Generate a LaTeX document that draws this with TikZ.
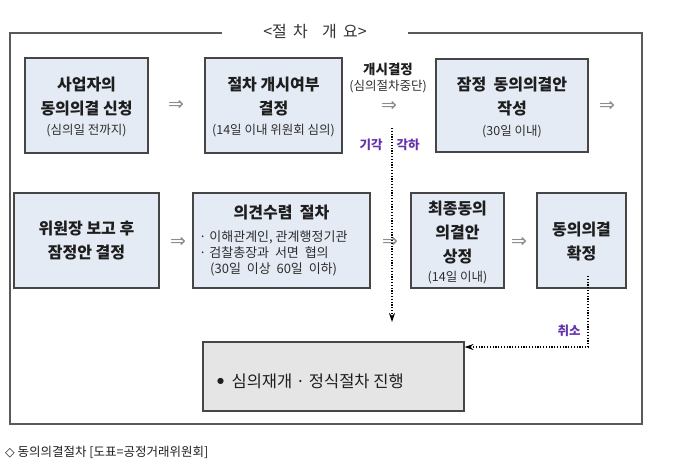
\documentclass[tikz,border=0pt]{standalone}
\usepackage{fontspec}
\setmainfont{Noto Sans CJK KR}
\newfontfamily\symfont{DejaVu Sans}
\usetikzlibrary{arrows.meta}
\definecolor{boxfill}{RGB}{229,235,245}
\definecolor{greyfill}{RGB}{229,229,229}
\definecolor{boxline}{RGB}{70,70,70}
\definecolor{purp}{RGB}{100,50,170}
\definecolor{txt}{RGB}{30,30,30}
\definecolor{subtxt}{RGB}{45,45,45}
\begin{document}
\begin{tikzpicture}[x=1pt,y=-1pt,
  box/.style={draw=boxline,line width=1.1pt,fill=boxfill,inner sep=0pt},
  gbox/.style={draw=boxline,line width=1.1pt,fill=greyfill,inner sep=0pt},
  ttl/.style={font=\bfseries\fontsize{16}{18}\selectfont,text=txt,inner sep=0pt},
  sub/.style={font=\fontsize{12.5}{14}\selectfont,text=subtxt,inner sep=0pt},
  lst/.style={font=\fontsize{13}{15}\selectfont,text=subtxt,inner sep=0pt,anchor=west},
  imp/.style={font=\symfont\fontsize{19}{20}\selectfont,text=black!45,inner sep=0pt},
  lab/.style={font=\bfseries\fontsize{12.5}{14}\selectfont,text=purp,inner sep=0pt},
  dots/.style={line width=1.3pt,dash pattern=on 1.2pt off 1.6pt,black},
  frame/.style={draw=black!65,line width=1.3pt}]
\useasboundingbox (0,0) rectangle (680,466);
% frame
\coordinate (fa) at (222,33);
\coordinate (fb) at (408,33);
\draw[frame] (fa) -- (10,33) -- (10,424) -- (642,424) -- (642,33) -- (fb);
\node[font=\fontsize{16}{18}\selectfont,text=black!80] (title) at (315,32) {<절\, 차 \ \ \ 개\, 요>};
% row 1
\node[box,minimum width=123pt,minimum height=95pt] (b1) at (86.5,105.5) {};
\node[ttl] (b1a) at (86.5,85) {사업자의};
\node[ttl] (b1b) at (86.5,109) {동의의결 신청};
\node[sub] (b1c) at (86.5,131) {(심의일 전까지)};
\node[imp] (i1) at (176,105) {⇒};
\node[box,minimum width=137pt,minimum height=95pt] (b2) at (273.5,105.5) {};
\node[ttl] (b2a) at (273.5,85) {절차 개시여부};
\node[ttl] (b2b) at (273.5,109) {결정};
\node[sub] (b2c) at (273.5,131) {(14일 이내 위원회 심의)};
\node[font=\bfseries\fontsize{13.5}{15}\selectfont,text=txt,inner sep=0pt] (g1) at (388,69) {개시결정};
\node[sub] (g2) at (388,87) {(심의절차중단)};
\node[imp] (i2) at (389,106) {⇒};
\node[box,minimum width=152pt,minimum height=93pt] (b3) at (512,105.5) {};
\node[ttl] (b3a) at (512,85) {잠정 \ 동의의결안};
\node[ttl] (b3b) at (512,109) {작성};
\node[sub] (b3c) at (512,132) {(30일 이내)};
\node[imp] (i3) at (607,106) {⇒};
% row 2
\node[box,minimum width=145pt,minimum height=95pt] (b4) at (86.5,240.5) {};
\node[ttl] (b4a) at (86.5,229) {위원장 보고 후};
\node[ttl] (b4b) at (86.5,253) {잠정안 결정};
\node[imp] (i4) at (178,242) {⇒};
\node[box,minimum width=177pt,minimum height=95pt] (b5) at (281.5,240.5) {};
\node[ttl] (b5a) at (281.5,213) {의견수렴 \ 절차};
\node[lst] (b5b) at (199,237) {· 이해관계인, 관계행정기관};
\node[lst] (b5c) at (199,253) {· 검찰총장과 \ 서면 \ 협의};
\node[lst] (b5d) at (210,269) {(30일 \ 이상 \ 60일 \ 이하)};
\node[imp] (i5) at (390,242) {⇒};
\node[box,minimum width=93pt,minimum height=95pt] (b6) at (457.5,240.5) {};
\node[ttl] (b6a) at (457.5,209) {최종동의};
\node[ttl] (b6b) at (457.5,233) {의결안};
\node[ttl] (b6c) at (457.5,257) {상정};
\node[sub] (b6d) at (457.5,278) {(14일 이내)};
\node[imp] (i6) at (519,242) {⇒};
\node[box,minimum width=89pt,minimum height=95pt] (b7) at (581.5,240.5) {};
\node[ttl] (b7a) at (581.5,230) {동의의결};
\node[ttl] (b7b) at (581.5,253) {확정};
% bottom
\node[gbox,minimum width=261pt,minimum height=69pt] (b8) at (333.5,376.5) {};
\node[font=\fontsize{16.5}{18}\selectfont,text=txt,inner sep=0pt,anchor=west] (b8a) at (217,381) {\raisebox{3.5pt}{\symfont\fontsize{8}{10}\selectfont●}\ \ 심의재개 · 정식절차 진행};
% dotted connectors
\coordinate (d1s) at (392,128);
\coordinate (d1e) at (392,322);
\draw[dots,-{Stealth[length=9pt,width=6pt]}] (d1s) -- (d1e);
\node[lab] (l1) at (371,145) {기각};
\node[lab] (l2) at (408,145) {각하};
\coordinate (d2s) at (588,276);
\coordinate (d2c) at (588,347);
\draw[dots,-{Stealth[length=9pt,width=6pt]}] (d2s) -- (d2c) -- (b8.east |- d2c);
\node[lab] (l3) at (569,331) {취소};
% caption
\node[font=\fontsize{12.5}{14}\selectfont,text=txt,inner sep=0pt,anchor=west] (cap) at (5,452) {{\symfont◇} 동의의결절차 [도표=공정거래위원회]};
\end{tikzpicture}
\end{document}
